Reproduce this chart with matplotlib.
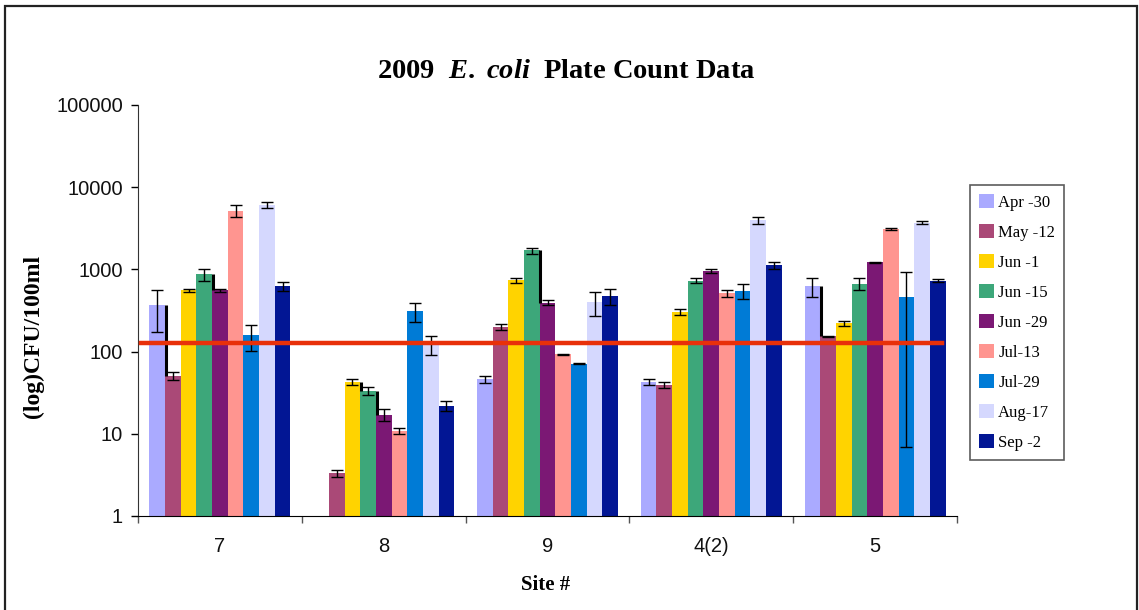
import numpy as np
import matplotlib
matplotlib.use("Agg")
import matplotlib.pyplot as plt
from matplotlib.patches import Rectangle

# ── data ──────────────────────────────────────────────────────────────────────
sites = ["7", "8", "9", "4(2)", "5"]
dates = ["Apr -30", "May -12", "Jun -1", "Jun -15", "Jun -29",
         "Jul-13", "Jul-29", "Aug-17", "Sep -2"]
colors = ["#AAAAFF", "#AA4977", "#FFD300", "#3DA77A", "#7B1874",
          "#FF9590", "#007BD6", "#D5D8FE", "#021694"]

# mean counts per sampling date, one list per date (site order as above)
apr30 = [364, np.nan, 46, 43, 620]
may12 = [51, 3.3, 200, 39.5, 153]
jun1 = [560, 43, 735, 305, 220]
jun15 = [870, 33.5, 1700, 730, 670]
jun29 = [555, 17, 395, 950, 1220]
jul13 = [5200, 10.9, 93, 510, 3100]
jul29 = [157, 310, 71, 550, 465]
aug17 = [6100, 122, 400, 3950, 3700]
sep2 = [620, 22, 470, 1120, 730]

# standard deviations
apr30_err = [190, np.nan, 4, 3.5, 155]
may12_err = [6, 0.3, 15, 3.5, 3]
jun1_err = [25, 3.5, 50, 25, 15]
jun15_err = [140, 4, 140, 55, 110]
jun29_err = [30, 2.8, 25, 50, 25]
jul13_err = [900, 0.9, 1, 45, 120]
jul29_err = [55, 80, 1, 115, 458]
aug17_err = [500, 32, 130, 370, 150]
sep2_err = [80, 3, 100, 100, 35]

values = [apr30, may12, jun1, jun15, jun29, jul13, jul29, aug17, sep2]
errors = [apr30_err, may12_err, jun1_err, jun15_err, jun29_err,
          jul13_err, jul29_err, aug17_err, sep2_err]

limit = 126  # single-sample standard, CFU/100ml

# (site index, date index) where a drop line joins a bar to the next one
drop_lines = [(0, 0), (0, 3), (1, 2), (1, 3), (2, 3), (4, 0)]

# ── plot ──────────────────────────────────────────────────────────────────────
fig = plt.figure(figsize=(11.39, 6.10), dpi=100)
ax = fig.add_axes([0.1212, 0.1541, 0.7190, 0.6738])

n = len(dates)
group_w = 0.861
w = group_w / n
x = np.arange(len(sites))

for i, (vals, errs) in enumerate(zip(values, errors)):
    xpos = x - group_w / 2 + w * (i + 0.5)
    ax.bar(xpos, vals, width=w, color=colors[i], label=dates[i], linewidth=0)
    ax.errorbar(xpos, vals, yerr=errs, fmt="none", ecolor="black",
                elinewidth=1, capsize=4, capthick=1)

for s, d in drop_lines:
    xl = x[s] - group_w / 2 + w * (d + 1)
    ax.vlines(xl + 0.004, values[d + 1][s], values[d][s],
              color="black", linewidth=2.2, zorder=3)

ax.plot([-0.485, 4.41], [limit, limit], color="#E8300A", linewidth=3.2, zorder=4)

ax.set_yscale("log")
ax.set_ylim(1, 100000)
ax.set_yticks([1, 10, 100, 1000, 10000, 100000])
ax.set_yticklabels(["1", "10", "100", "1000", "10000", "100000"])
ax.yaxis.set_minor_locator(matplotlib.ticker.NullLocator())
ax.set_xlim(-0.5, len(sites) - 0.5)

ax.set_xticks(np.arange(len(sites) + 1) - 0.5)
ax.set_xticklabels([])
ax.set_xticks(x, minor=True)
ax.set_xticklabels(sites, minor=True)
ax.tick_params(axis="x", which="minor", length=0, pad=15)
ax.tick_params(axis="x", which="major", length=5, width=1, color="#555555")
ax.tick_params(axis="y", which="major", length=5, width=1, pad=6)
for lab in ax.get_xticklabels(minor=True) + ax.get_yticklabels():
    lab.set_fontfamily("Liberation Sans")
    lab.set_fontsize(14.5)
    lab.set_color("#111111")

for side in ["top", "right"]:
    ax.spines[side].set_visible(False)
ax.spines["left"].set_color("#333333")
ax.spines["bottom"].set_color("black")

ax.set_ylabel("(log)CFU/100ml", fontfamily="Liberation Serif",
              fontweight="bold", fontsize=17)
ax.yaxis.set_label_coords(-0.115, 0.438)
ax.set_xlabel("Site #", fontfamily="Liberation Serif",
              fontweight="bold", fontsize=15)
ax.xaxis.set_label_coords(0.498, -0.1435)

plt.rcParams["mathtext.fontset"] = "custom"
plt.rcParams["mathtext.it"] = "Liberation Serif:italic:bold"
plt.rcParams["mathtext.rm"] = "Liberation Serif:bold"
fig.text(566 / 1139, 1 - 71 / 610, r"2009  $\mathit{E.\ coli}$  Plate Count Data",
         ha="center", va="center", fontfamily="Liberation Serif",
         fontweight="bold", fontsize=20.5)

leg = ax.legend(loc="upper left", bbox_to_anchor=(970 / 1139, 1 - 185 / 610),
                bbox_transform=fig.transFigure, frameon=True, fancybox=False,
                prop={"family": "Liberation Serif", "size": 12},
                handlelength=0.9, handleheight=0.9, handletextpad=0.25,
                labelspacing=0.8, borderpad=0.55, borderaxespad=0)
leg.get_frame().set_edgecolor("#333333")
leg.get_frame().set_linewidth(1.2)

# outer chart frame
fig.add_artist(Rectangle((5 / 1139, -0.02), 1132 / 1139, 1.02 - 6 / 610,
                         transform=fig.transFigure, fill=False,
                         edgecolor="#222222", linewidth=1.6))

fig.savefig("out.png", dpi=100)
